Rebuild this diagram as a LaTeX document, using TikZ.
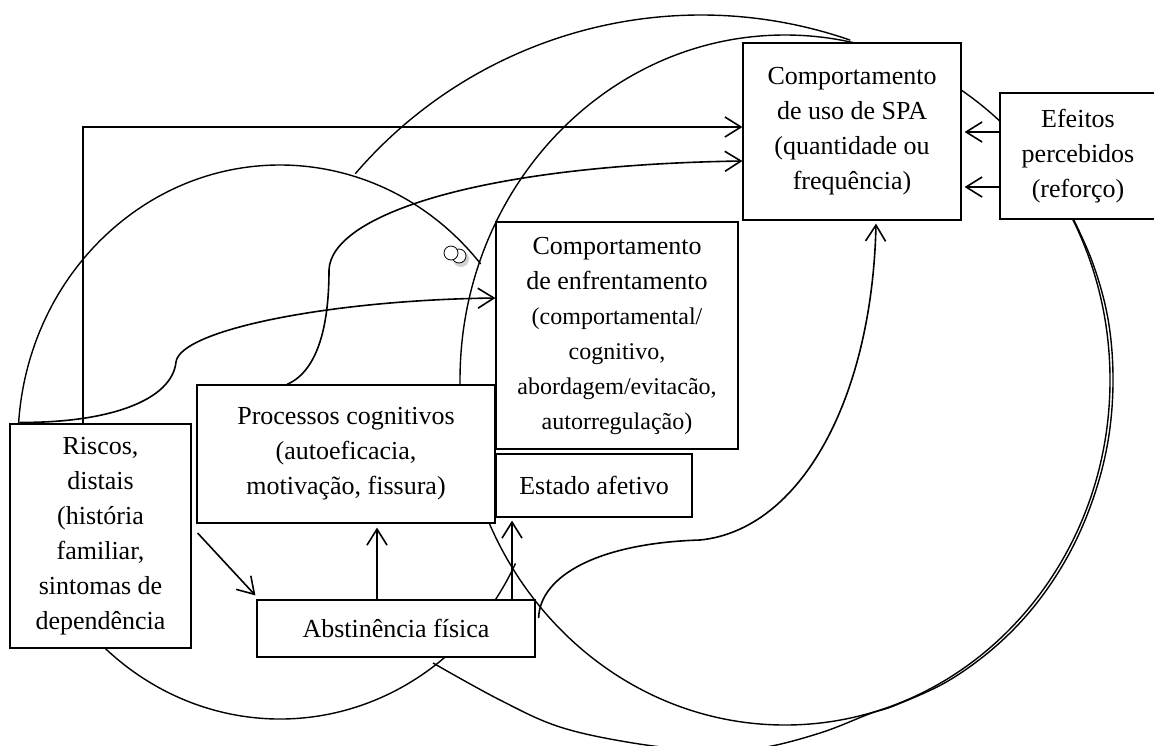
\documentclass[tikz,border=0pt]{standalone}
\usepackage{fontspec}
\setmainfont{Liberation Serif}
\usetikzlibrary{arrows.meta,calc}
\newcommand{\smallpart}{\fontsize{12}{17}\selectfont}

\begin{document}
\begin{tikzpicture}[x=0.5pt, y=-0.5pt, every node/.style={font=\fontsize{13}{17.5}\selectfont}, box/.style={draw, fill=white, line width=0.6pt, align=center, inner sep=0pt}, arrow/.style={-{Straight Barb[length=8pt,width=10pt]}, line width=0.8pt}, ring/.style={line width=0.7pt}]
\useasboundingbox (0,0) rectangle (1154,745);
\draw[ring] ($(280,442)+(40:131pt and 138.5pt)$) arc[start angle=40, end angle=334, x radius=131pt, y radius=138.5pt];
\draw[ring] ($(701,471)+(139.3:228pt)$) arc[start angle=139.3, end angle=70.9, radius=228pt];
\draw[ring] (785,380) ellipse [x radius=162.5pt, y radius=172.5pt];
\draw[ring] plot[smooth, tension=0.6] coordinates {(1067,206) (1092,261) (1108,319) (1113,380) (1108,441) (1093,499) (1069,554) (1036,604) (996,646) (948,681) (896,705) (869,714) (820,733) (760,748) (700,750) (633,743) (560,727) (500,700) (433,663)};
\fill[gray!35] (461,259) circle (4pt);
\draw[fill=white] (459,256) circle (3.5pt);
\draw[fill=white] (451,253) circle (3.5pt);
\node[box, minimum width=109pt, minimum height=88.5pt] (spa) at (852,131.5) {Comportamento\\de uso de SPA\\(quantidade ou\\frequência)};
\node[box, minimum width=78pt, minimum height=63pt] (efeitos) at (1078,156) {Efeitos\\percebidos\\(reforço)};
\node[box, minimum width=121pt, minimum height=113.5pt] (enfr) at (617,335.5) {Comportamento\\de enfrentamento\\\smallpart(comportamental/\\\smallpart cognitivo,\\\smallpart abordagem/evitacão,\\\smallpart autorregulação)};
\node[box, minimum width=149pt, minimum height=69pt] (proc) at (346,454) {Processos cognitivos\\(autoeficacia,\\motivação, fissura)};
\node[box, minimum width=98pt, minimum height=31.5pt] (estado) at (594,485.5) {Estado afetivo};
\node[box, minimum width=90.5pt, minimum height=112pt] (riscos) at (100.5,536) {Riscos,\\distais\\(história\\familiar,\\sintomas de\\dependência};
\node[box, minimum width=139pt, minimum height=28.5pt] (abst) at (396,628.5) {Abstinência física};
\coordinate (bend) at (83,127);
\draw[arrow] (riscos.north -| bend) -- (bend) -- (bend -| spa.west);
\draw[arrow] ($(riscos.north west)+(10,-1)$) .. controls (110,423) and (172,400) .. (176,362) .. controls (180,330) and (330,300) .. ($(enfr.west)+(0,-37.5)$);
\draw[arrow] ($(proc.north)+(-59,0)$) .. controls (320,370) and (329,320) .. (329,270) .. controls (331,215) and (480,165) .. ($(spa.west)+(0,29.5)$);
\draw[arrow] ($(riscos.east)+(6,-3)$) -- ($(abst.north west)+(-1,-4)$);
\draw[arrow] ($(abst.north)+(-19,0)$) -- ($(proc.south)+(31,4)$);
\draw[arrow] ($(abst.north)+(116,0)$) -- ($(estado.south)+(-82,3)$);
\draw[arrow] ($(abst.east)+(3,-10.5)$) .. controls (540,575) and (600,543) .. (700,540) .. controls (800,530) and (872,400) .. ($(spa.south)+(24,3)$);
\coordinate (e1) at ($(efeitos.west)+(0,-24)$);
\coordinate (e2) at ($(efeitos.west)+(0,31)$);
\draw[arrow, shorten >=1.5pt] (e1) -- (e1 -| spa.east);
\draw[arrow, shorten >=1.5pt] (e2) -- (e2 -| spa.east);
\end{tikzpicture}
\end{document}
